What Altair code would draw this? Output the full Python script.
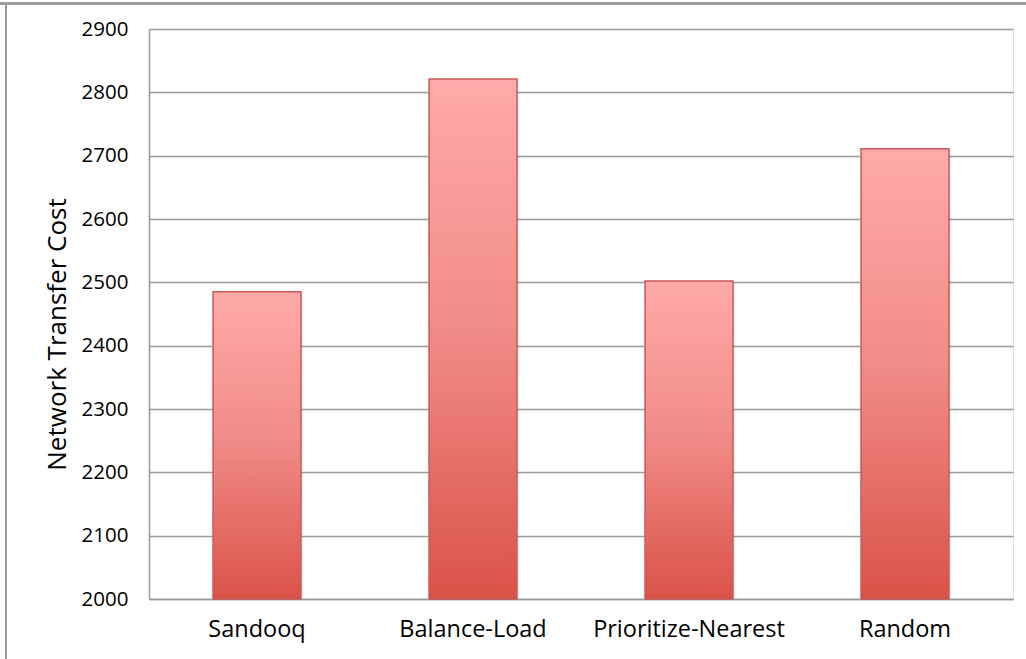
import altair as alt
import pandas as pd

# Network transfer cost per placement strategy
strategies = ["Sandooq", "Balance-Load", "Prioritize-Nearest", "Random"]
costs = [2485, 2821, 2502, 2711]

df = pd.DataFrame({"strategy": strategies, "cost": costs})

FONT = "Open Sans"
W, H = 864, 570

x_enc = alt.X(
    "strategy:N",
    sort=strategies,
    title=None,
    scale=alt.Scale(paddingInner=0.593, paddingOuter=0.2965),
    axis=alt.Axis(
        labelAngle=0,
        labelFontSize=23.5,
        labelFont=FONT,
        labelColor="#000000",
        labelPadding=18,
        labelLimit=400,
        ticks=False,
        domainColor="#999999",
        domainWidth=1.5,
        grid=False,
    ),
)

y_enc = alt.Y(
    "cost:Q",
    title="Network Transfer Cost",
    scale=alt.Scale(domain=[2000, 2900], nice=False, zero=False),
    axis=alt.Axis(
        values=list(range(2000, 2901, 100)),
        format="d",
        labelFontSize=20.5,
        labelFont=FONT,
        labelColor="#000000",
        labelPadding=21,
        ticks=False,
        domainColor="#999999",
        domainWidth=1.5,
        gridColor="#999999",
        gridWidth=1.5,
        titleFont=FONT,
        titleFontSize=26,
        titleFontWeight="normal",
        titleColor="#000000",
        titleAngle=-90,
        titleBaseline="middle",
        titleX=-92,
        titleY=305,
    ),
)

gradient = alt.LinearGradient(
    gradient="linear",
    x1=0, y1=0, x2=0, y2=1,
    stops=[
        alt.GradientStop(offset=0, color="#FFAAAA"),
        alt.GradientStop(offset=0.5, color="#F08A86"),
        alt.GradientStop(offset=1, color="#DA5248"),
    ],
)

shadow = alt.Chart(df).mark_bar(
    color="#000000", opacity=0.08, xOffset=2, yOffset=1
).encode(x=x_enc, y=y_enc, y2=alt.datum(2000))

bars = alt.Chart(df).mark_bar(
    color=gradient, stroke="#C85A55", strokeWidth=1.5
).encode(x=x_enc, y=y_enc, y2=alt.datum(2000))

# outer frame lines (top and left edges of the figure)
frame_top = alt.Chart(df).mark_rule(color="#999999", strokeWidth=2).encode(
    x=alt.value(-149), x2=alt.value(877), y=alt.value(-25.5)
)
frame_left = alt.Chart(df).mark_rule(color="#999999", strokeWidth=2).encode(
    x=alt.value(-143), y=alt.value(-25.5), y2=alt.value(640)
)

chart = (
    alt.layer(shadow, bars, frame_top, frame_left)
    .properties(
        width=W,
        height=H,
        autosize=alt.AutoSizeParams(type="none"),
        padding={"left": 149, "top": 29, "right": 13, "bottom": 60},
    )
    .configure_view(stroke=None)
    .configure(background="#ffffff")
)

chart.save("out.html", embed_options={"renderer": "svg", "actions": False})
